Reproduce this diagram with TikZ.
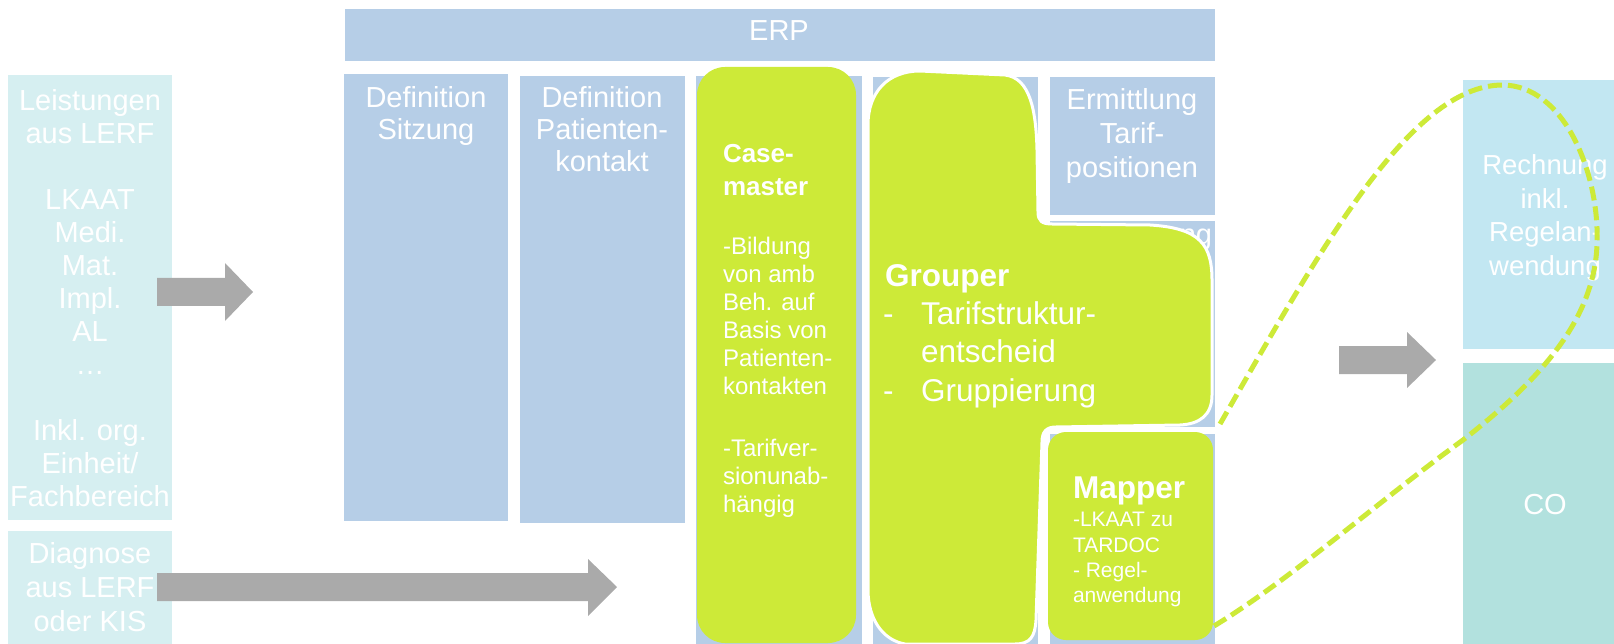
\documentclass[tikz,border=0pt]{standalone}
\usepackage{fontspec}
\setmainfont{Liberation Sans}
\definecolor{erpblue}{RGB}{182,206,231}
\definecolor{leftcyan}{RGB}{214,239,241}
\definecolor{limegreen}{RGB}{205,234,56}
\definecolor{rechblue}{RGB}{194,231,242}
\definecolor{coteal}{RGB}{178,225,222}
\definecolor{arrowgray}{RGB}{170,170,170}
\begin{document}
\begin{tikzpicture}[x=1pt,y=-1pt,
  box/.style={draw=none, inner sep=0, outer sep=0, anchor=north west},
  wtext/.style={text=white, inner sep=0, outer sep=0, align=center, font=\fontsize{29}{33}\selectfont},
  gtext/.style={text=white, inner sep=0, outer sep=0, align=left, anchor=north west},
  greenshape/.style={fill=limegreen, draw=white, line width=3pt},
  loopline/.style={draw=limegreen, line width=5pt, dash pattern=on 14pt off 6pt},
  blockfill/.style={fill=arrowgray, draw=none}]
\useasboundingbox (0,0) rectangle (1614,644);
% background boxes
\node[box, fill=leftcyan, minimum width=164, minimum height=445] (lerf) at (8,75) {};
\node[box, fill=leftcyan, minimum width=164, minimum height=113] (diag) at (8,531) {};
\node[box, fill=erpblue, minimum width=870, minimum height=52] (erp) at (345,9) {};
\node[box, fill=erpblue, minimum width=164, minimum height=447] (defsitz) at (344,74) {};
\node[box, fill=erpblue, minimum width=165, minimum height=447] (defpat) at (520,76) {};
\node[box, fill=erpblue, minimum width=166, minimum height=568] (colc) at (696,76) {};
\node[box, fill=erpblue, minimum width=165, minimum height=567] (cold) at (873,77) {};
\node[box, fill=erpblue, minimum width=165, minimum height=138] (ermitt) at (1050,77) {};
\node[box, fill=erpblue, minimum width=165, minimum height=206] (colfb) at (1050,221) {};
\node[box, fill=erpblue, minimum width=165, minimum height=210] (colfc) at (1050,434) {};
\node[box, fill=rechblue, minimum width=151, minimum height=269] (rech) at (1463,80) {};
\node[box, fill=coteal, minimum width=151, minimum height=281] (co) at (1463,363) {};
% texts on boxes
\node[wtext, anchor=north] (lerftxt) at (90,89.5) {Leistungen\\aus LERF\\[33pt]LKAAT\\Medi.\\Mat.\\Impl.\\AL\\…\\[33pt]Inkl. org.\\Einheit/\\Fachbereich};
\node[wtext, anchor=north, font=\fontsize{29}{34}\selectfont] (diagtxt) at (90,542.5) {Diagnose\\aus LERF\\oder KIS};
\node[wtext] (erptxt) at (779,31) {ERP};
\node[wtext, anchor=north, font=\fontsize{29}{32}\selectfont] (defsitztxt) at (426,86.5) {Definition\\Sitzung};
\node[wtext, anchor=north, font=\fontsize{29}{32}\selectfont] (defpattxt) at (602,86.5) {Definition\\Patienten-\\kontakt};
\node[wtext, anchor=north, font=\fontsize{29}{34}\selectfont] (ermitttxt) at (1132,88.5) {Ermittlung\\Tarif-\\positionen};
\node[wtext, anchor=base east] (ngtxt) at (1212,245) {ng};
\node[wtext, anchor=north, font=\fontsize{27.5}{33.5}\selectfont] (rechtxt) at (1545,155) {Rechnung\\inkl.\\Regelan-\\wendung};
\node[wtext] (cotxt) at (1545,505) {CO};
% green shapes
\node[greenshape, box, rounded corners=28, minimum width=159, minimum height=576] (casemaster) at (697,67) {};
\draw[greenshape] (868,125) .. controls (868,92) and (888,71) .. (920,71)
  -- (1005,75) .. controls (1030,78) and (1036,110) .. (1037,150)
  -- (1038,212) .. controls (1038,221) and (1042,224) .. (1052,224)
  -- (1150,225) .. controls (1200,228) and (1212,245) .. (1212,280)
  -- (1212,395) .. controls (1212,415) and (1200,424) .. (1180,425)
  -- (1056,427) .. controls (1046,427) and (1042,432) .. (1042,442)
  -- (1036,620) .. controls (1035,637) and (1030,644) .. (1015,644)
  -- (905,644) .. controls (882,640) and (868,618) .. (868,590) -- cycle;
\node[greenshape, box, rounded corners=18, minimum width=165, minimum height=208] (mapper) at (1048,432) {};
% green texts
\node[gtext, font=\fontsize{26}{33}\bfseries] (casetitle) at (723,144) {Case-\\master};
\node[gtext, font=\fontsize{24}{28}\selectfont] (casebodya) at (723,237) {-Bildung\\von amb\\Beh. auf\\Basis von\\Patienten-\\kontakten};
\node[gtext, font=\fontsize{24}{28}\selectfont] (casebodyb) at (723,439) {-Tarifver-\\sionunab-\\hängig};
\node[gtext, font=\fontsize{31.5}{38}\bfseries] (grouptitle) at (885,265) {Grouper};
\node[text=white, inner sep=0, anchor=base west, font=\fontsize{31.5}{38}\selectfont] (dasha) at (883,324) {-};
\node[gtext, font=\fontsize{31.5}{37.5}\selectfont] (groupa) at (921,302) {Tarifstruktur-\\entscheid};
\node[text=white, inner sep=0, anchor=base west, font=\fontsize{31.5}{38}\selectfont] (dashb) at (883,401) {-};
\node[gtext, font=\fontsize{31.5}{38}\selectfont] (groupb) at (921,379) {Gruppierung};
\node[gtext, font=\fontsize{31.5}{38}\bfseries] (maptitle) at (1073,477) {Mapper};
\node[gtext, font=\fontsize{21}{25.3}\selectfont] (mapbody) at (1073,512.5) {-LKAAT zu\\TARDOC\\- Regel-\\anwendung};
% block arrows
\coordinate (aonetip) at (253,292);
\fill[blockfill] (157,278) -- (225,278) -- (225,263) -- (aonetip) -- (225,321) -- (225,306) -- (157,306) -- cycle;
\coordinate (atwotip) at (617,587);
\fill[blockfill] (157,573) -- (588,573) -- (588,559) -- (atwotip) -- (588,616) -- (588,601) -- (157,601) -- cycle;
\coordinate (athreetip) at (1436,360);
\fill[blockfill] (1339,346) -- (1407,346) -- (1407,332) -- (athreetip) -- (1407,388) -- (1407,374) -- (1339,374) -- cycle;
% dashed loop
\coordinate (loopa) at (1220,424);
\coordinate (loopb) at (1214,626);
\draw[loopline] (loopa) .. controls (1320,250) and (1410,86) .. (1502,85)
  .. controls (1565,85) and (1600,175) .. (1597,245)
  .. controls (1594,320) and (1540,380) .. (1463,440)
  .. controls (1380,500) and (1290,580) .. (loopb);
\end{tikzpicture}
\end{document}
